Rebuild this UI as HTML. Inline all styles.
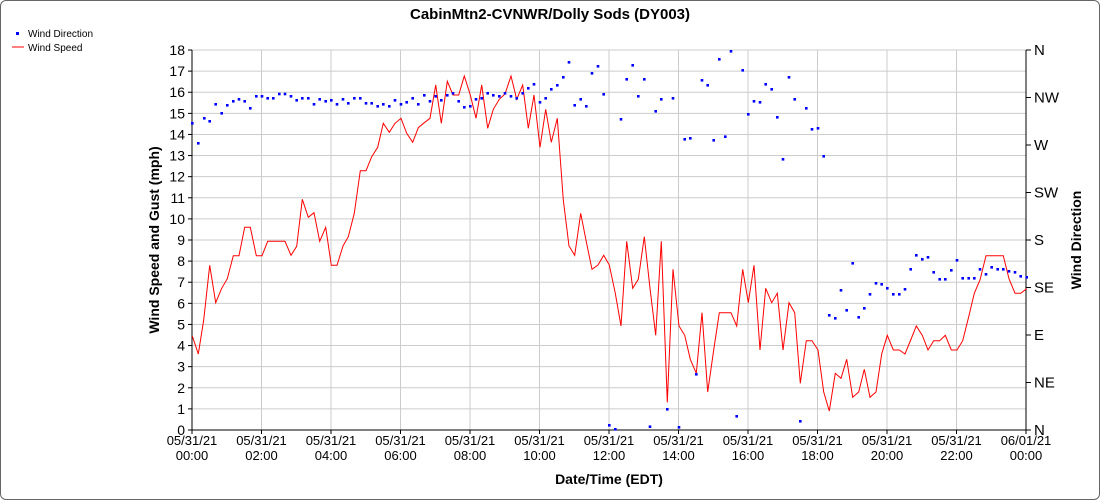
<!DOCTYPE html>
<html><head><meta charset="utf-8"><style>
body{margin:0;background:#fff;font-family:"Liberation Sans",sans-serif}
#w{position:relative;width:1098px;height:498px;border:1px solid #666;border-radius:6px;overflow:hidden}
</style></head><body><div id="w"><svg id="s" width="1100" height="500" style="position:absolute;left:-1px;top:-1px" font-family="Liberation Sans, sans-serif"></svg></div>
<script>
const s=document.getElementById('s');let h='';
const L=192,R=1026,T=50,B=430;
h+=`<text x="550" y="19" font-size="15" font-weight="bold" text-anchor="middle">CabinMtn2-CVNWR/Dolly Sods (DY003)</text>`;
for(let i=0;i<=18;i++){let y=B-i*(B-T)/18;h+=`<line x1="${L}" x2="${R}" y1="${y}" y2="${y}" stroke="#ccc"/><line x1="${L-4}" x2="${L}" y1="${y}" y2="${y}" stroke="#000"/><text x="${L-7}" y="${y+5}" font-size="14" text-anchor="end">${i}</text>`;}
for(let k=0;k<=12;k++){let x=L+k*(R-L)/12;h+=`<line x1="${x}" x2="${x}" y1="${T}" y2="${B}" stroke="#ccc"/><line x1="${x}" x2="${x}" y1="${B}" y2="${B+4}" stroke="#000"/><text x="${x}" y="${B+15}" font-size="13" text-anchor="middle">${k==12?'06/01/21':'05/31/21'}</text><text x="${x}" y="${B+30}" font-size="13" text-anchor="middle">${k==12?'00:00':String(2*k).padStart(2,'0')+':00'}</text>`;}
const dl=['N','NE','E','SE','S','SW','W','NW','N'];
dl.forEach((d,i)=>{let y=B-i*(B-T)/8;h+=`<line x1="${R}" x2="${R+5}" y1="${y}" y2="${y}" stroke="#000"/><text x="${R+8}" y="${y+5}" font-size="15">${d}</text>`;});
h+=`<line x1="${L}" x2="${L}" y1="${T}" y2="${B}" stroke="#000"/><line x1="${R}" x2="${R}" y1="${T}" y2="${B}" stroke="#000"/><line x1="${L}" x2="${R}" y1="${B}" y2="${B}" stroke="#000"/>`;
h+=`<text transform="translate(159,240) rotate(-90)" font-size="14" font-weight="bold" text-anchor="middle">Wind Speed and Gust (mph)</text>`;
h+=`<text transform="translate(1081,240) rotate(-90)" font-size="14" font-weight="bold" text-anchor="middle">Wind Direction</text>`;
h+=`<text x="609" y="484" font-size="14" font-weight="bold" text-anchor="middle">Date/Time (EDT)</text>`;
h+=`<rect x="16" y="32" width="3" height="3" fill="#00f"/><text x="28" y="37" font-size="10">Wind Direction</text><line x1="12" x2="24" y1="47" y2="47" stroke="red"/><text x="28" y="51" font-size="10">Wind Speed</text>`;
const c=(o,a)=>{let r=[];for(let i=0;i<a.length;i+=2)r.push([o[0]+a[i]/3,o[1]+a[i+1]/3]);return r;};
let line=[...c([185,40],[22,888,40,942,56,840,74,676,92,788,110,745,127,716,145,647,162,647,179,562,196,562,214,647,231,647,248,604,300,604,318,646,335,619,352,478,370,532,387,518,404,604,422,562,439,676,456,676,474,618,490,590,508,520,526,392,543,392,560,350,578,322,595,250,613,277,630,250,648,235,665,280,683,307,700,263,718,248,735,235,752,135,769,250,787,124,804,165,821,165,838,108,856,165,873,235,890,135,908,265,925,208,943,178,960,162,978,108,995,178,1013,135,1030,265,1047,165,1065,322,1082,208,1099,307,1117,235]),
...c([540,40],[70,480,87,618,104,646,122,520,139,605,156,688,174,675,191,646,208,675,226,760,243,858,260,604,278,745,295,718,313,590,330,745,347,886,364,604,382,1087,399,688,417,858,434,886,451,958,469,1000,486,818,503,1056,521,930,538,818,573,818,590,858,608,688,625,788,642,676,660,930,677,745,695,788,712,760,729,930,747,788,764,818,781,1030,799,902,816,902,834,930,851,1056,868,1113,886,1000]),
...c([800,40],[123,1015,140,958,158,1072,176,1056,193,988,210,1072,228,1056,245,942,262,886,280,930,298,930,315,942,332,900,349,858,367,886,384,930,401,902,419,902,436,886,454,930,471,930,488,902,506,830,523,760,540,720,558,647,610,647,627,716,645,760,662,760,680,746])];
h+=`<polyline fill="none" stroke="red" stroke-width="1" points="${line.map(p=>p[0].toFixed(1)+','+p[1].toFixed(1)).join(' ')}"/>`;
let dots=[...c([185,40],[22,250,40,310,58,235,74,244,92,193,110,220,127,196,145,184,162,178,179,184,196,205,214,169,231,169,248,175,265,175,283,162,300,162,318,169,335,181,352,175,370,175,387,193,404,178,422,184,439,181,456,193,474,178,490,190,508,175,526,175,543,190,560,190,578,199,595,193,613,199,630,181,648,193,665,187,683,175,700,193,718,166,735,184,752,169,769,181,787,166,804,160,821,184,838,202,856,199,873,178,890,175,908,160,925,166,943,169,960,160,978,169,995,175,1013,160,1030,145,1047,133,1065,187,1082,175,1099,148,1117,136]),
...c([540,40],[70,112,87,67,104,196,122,178,139,199,156,100,174,79,191,163,208,1156,226,1168,243,238,260,118,278,76,295,169,313,118,330,1160,347,214,364,178,382,1108,399,175,417,1162,434,298,451,295,469,1003,486,121,503,136,521,301,538,58,556,290,573,34,590,1129,608,91,625,223,642,184,660,187,677,133,695,148,712,232,729,358,747,112,764,178,781,1144,799,205,816,268,834,265,851,349,868,826,886,835]),
...c([800,40],[123,751,140,811,158,670,176,832,193,805,210,763,228,730,245,733,262,745,280,763,298,763,315,748,332,688,349,646,367,658,384,652,401,697,419,718,436,718,454,691,471,661,488,715,506,715,523,715,540,688,558,703,575,682,593,688,610,688,627,694,645,697,662,709,680,712])];
dots.forEach(p=>h+=`<rect x="${(p[0]-1.3).toFixed(1)}" y="${(p[1]-1.3).toFixed(1)}" width="2.6" height="2.6" fill="#00f"/>`);
s.innerHTML=h;
</script></body></html>
